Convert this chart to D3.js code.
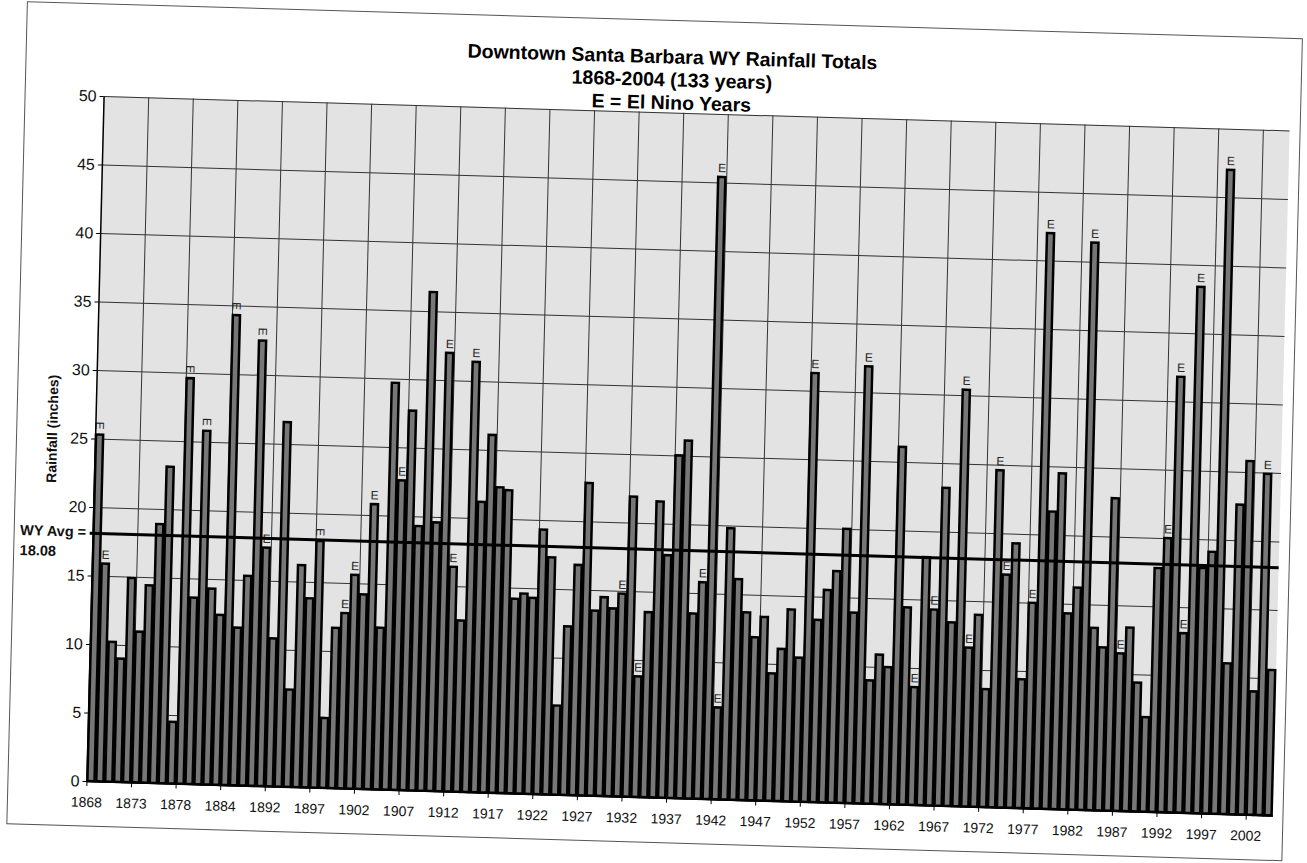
<!DOCTYPE html>
<html lang="en">
<head>
<meta charset="utf-8">
<title>Downtown Santa Barbara WY Rainfall Totals</title>
<script src="https://d3js.org/d3.v7.min.js"></script>
<style>
  body { margin: 0; background: #fff; }
  svg { display: block; font-family: Arial, "Liberation Sans", sans-serif; }
</style>
</head>
<body>
<div class="chart"></div>
<script>
// water years on the category axis (a few 1880s years are missing in the record)
const years = d3.range(1868, 1883).concat([1884, 1888, 1889, 1890, 1891], d3.range(1892, 2005));

// rainfall totals, inches
const rainfall = [
  25.3, 15.9, 10.2, 9.0, 14.9, 11.0, 14.4, 18.9, 23.1, 4.5,    // 1868-1877
  29.6, 13.6, 25.8, 14.3, 12.4, 34.3, 11.5, 15.3, 32.5, 17.4,  // 1878-1891
  10.8, 26.6, 7.1, 16.2, 13.8, 18.0, 5.1, 11.7, 12.8, 15.6,    // 1892-1901
  14.2, 20.8, 11.8, 29.7, 22.6, 27.7, 19.3, 36.4, 19.6, 32.0,  // 1902-1911
  16.4, 12.5, 31.4, 21.2, 26.1, 22.3, 22.1, 14.2, 14.6, 14.3,  // 1912-1921
  19.3, 17.3, 6.5, 12.3, 16.8, 22.8, 13.5, 14.5, 13.7, 14.8,   // 1922-1931
  21.9, 8.8, 13.5, 21.6, 17.7, 25.0, 26.1, 13.5, 15.8, 45.4,   // 1932-1941
  6.7, 19.8, 16.1, 13.7, 11.9, 13.4, 9.3, 11.1, 14.0, 10.5,    // 1942-1951
  31.3, 13.3, 15.5, 16.9, 20.0, 13.9, 31.9, 9.0, 10.9, 10.0,   // 1952-1961
  26.1, 14.4, 8.6, 18.1, 14.3, 23.2, 13.4, 30.4, 11.6, 14.0,   // 1962-1971
  8.6, 24.6, 17.0, 19.3, 9.4, 15.0, 42.0, 21.7, 24.5, 14.3,    // 1972-1981
  16.2, 41.4, 13.3, 11.9, 22.8, 11.5, 13.4, 9.4, 6.9, 17.8,    // 1982-1991
  20.0, 31.8, 13.1, 38.4, 17.9, 19.1, 47.0, 11.0, 22.6, 25.8,  // 1992-2001
  9.0, 24.9, 10.6                                               // 2002-2004
];

// years marked "E"
const elNinoYears = [1868, 1869, 1878, 1880, 1884, 1890, 1891, 1897, 1900, 1901,
  1903, 1906, 1911, 1912, 1914, 1931, 1933, 1940, 1941, 1942, 1952, 1958, 1964,
  1966, 1969, 1970, 1973, 1974, 1977, 1978, 1983, 1987, 1992, 1993, 1994, 1995,
  1998, 2003];
// these few labels are printed sideways in the original
const sidewaysE = [1868, 1878, 1880, 1884, 1890, 1897];

const yTicks = [0, 5, 10, 15, 20, 25, 30, 35, 40, 45, 50];
const avgRain = 18.08;

const titleLines = ['Downtown Santa Barbara WY Rainfall Totals', '1868-2004 (133 years)', 'E = El Nino Years'];

const data = years.map((yr, i) => ({i: i, year: yr, value: rainfall[i], e: elNinoYears.includes(yr)}));

const width = 1307, height = 863;
const plot = {left: 86.5, top: 96, width: 1186, height: 685};

const svg = d3.select('.chart').append('svg')
    .attr('width', width)
    .attr('height', height);

svg.append('rect').attr('width', width).attr('height', height).attr('fill', '#fff');

// the scanned page is slightly skewed, tilt everything the same way
const page = svg.append('g')
    .attr('transform', 'matrix(1,0.029,-0.025,1,19.5,-2.5)');

// outer chart frame
page.append('rect')
    .attr('x', 8).attr('y', 4)
    .attr('width', 1275).attr('height', 822)
    .attr('fill', 'none')
    .attr('stroke', '#555')
    .attr('stroke-width', 1);

// title
page.selectAll('.title')
    .data(titleLines)
    .enter()
    .append('text')
    .attr('class', 'title')
    .attr('x', 654)
    .attr('y', (d, i) => 47 + i * 23)
    .attr('text-anchor', 'middle')
    .attr('font-size', 19.5)
    .attr('font-weight', 'bold')
    .attr('fill', '#000')
    .text(d => d);

const g = page.append('g')
    .attr('transform', `translate(${plot.left},${plot.top})`);

const x = d3.scaleBand()
    .domain(d3.range(years.length))
    .range([0, plot.width])
    .paddingInner(0.2)
    .paddingOuter(0.1);

// gridlines and year labels sit on the category boundaries
const xEdge = d3.scaleLinear()
    .domain([0, years.length])
    .range([0, plot.width]);

const y = d3.scaleLinear()
    .domain([0, 50])
    .range([plot.height, 0]);

g.append('rect')
    .attr('width', plot.width)
    .attr('height', plot.height)
    .attr('fill', '#e3e3e3');

// horizontal gridlines
g.append('g')
    .attr('class', 'grid')
    .call(d3.axisLeft(y).tickValues(yTicks).tickSize(-plot.width).tickFormat(''))
    .call(s => s.select('.domain').remove())
    .call(s => s.selectAll('line').attr('stroke', '#333').attr('stroke-width', 1));

// vertical gridlines every 5 categories
g.append('g')
    .attr('class', 'grid')
    .call(d3.axisTop(xEdge).tickValues(d3.range(5, years.length, 5)).tickSize(-plot.height).tickFormat(''))
    .call(s => s.select('.domain').remove())
    .call(s => s.selectAll('line').attr('stroke', '#333').attr('stroke-width', 1));

g.selectAll('.bar')
    .data(data)
    .enter()
    .append('rect')
    .attr('class', 'bar')
    .attr('x', d => x(d.i))
    .attr('y', d => y(d.value))
    .attr('width', x.bandwidth())
    .attr('height', d => plot.height - y(d.value))
    .attr('fill', '#777')
    .attr('stroke', '#000')
    .attr('stroke-width', 2.5);

// E markers
g.selectAll('.elabel')
    .data(data.filter(d => d.e))
    .enter()
    .append('text')
    .attr('class', 'elabel')
    .attr('transform', d => {
        const cx = x(d.i) + x.bandwidth() / 2;
        const cy = y(d.value) - 9;
        return sidewaysE.includes(d.year)
            ? `translate(${cx},${cy}) rotate(90)`
            : `translate(${cx},${cy})`;
    })
    .attr('text-anchor', 'middle')
    .attr('dy', '0.35em')
    .attr('font-size', 12)
    .attr('fill', '#222')
    .text('E');

// average line
g.append('line')
    .attr('x1', -3)
    .attr('x2', plot.width)
    .attr('y1', y(avgRain))
    .attr('y2', y(avgRain))
    .attr('stroke', '#000')
    .attr('stroke-width', 3);

// axes
const yAxis = g.append('g')
    .call(d3.axisLeft(y).tickValues(yTicks).tickSize(4).tickSizeOuter(0).tickPadding(3));
yAxis.select('.domain').attr('stroke', '#000').attr('stroke-width', 1.5);
yAxis.selectAll('text').attr('font-size', 16).attr('fill', '#111');

const xAxis = g.append('g')
    .attr('transform', `translate(0,${plot.height})`)
    .call(d3.axisBottom(xEdge)
        .tickValues(d3.range(0, years.length, 5))
        .tickFormat(i => years[i])
        .tickSize(5)
        .tickSizeOuter(0)
        .tickPadding(11));
xAxis.select('.domain').attr('stroke', '#000').attr('stroke-width', 1.5);
xAxis.selectAll('text').attr('font-size', 14).attr('fill', '#111');

g.append('text')
    .attr('transform', `translate(-38,${430 - plot.top}) rotate(-90)`)
    .attr('text-anchor', 'middle')
    .attr('font-size', 14)
    .attr('font-weight', 'bold')
    .attr('fill', '#111')
    .text('Rainfall (inches)');

// average label left of the axis
page.append('text')
    .attr('x', 14).attr('y', 537)
    .attr('font-size', 14.5).attr('font-weight', 'bold').attr('fill', '#111')
    .text('WY Avg =');
page.append('text')
    .attr('x', 14).attr('y', 557)
    .attr('font-size', 14.5).attr('font-weight', 'bold').attr('fill', '#111')
    .text(avgRain.toFixed(2));
</script>
</body>
</html>
